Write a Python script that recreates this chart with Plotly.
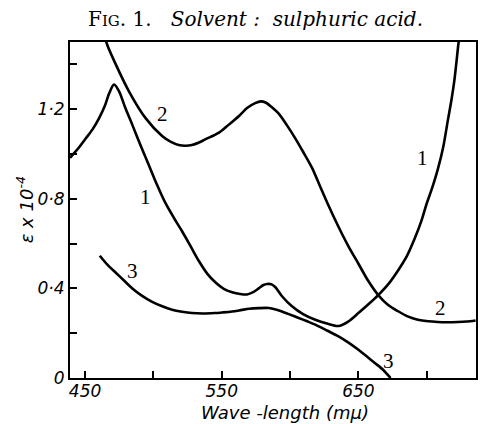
import plotly.graph_objects as go

# Curve 1
wl1 = [439, 445, 450.6, 455.5, 460.3, 464.5, 467.6, 471.2, 474.9, 479.5, 484.6, 490.5, 496.7, 502.5, 508.5, 515, 521, 527.5, 533.5, 539.5, 545.7, 551.5, 557.6, 563.5, 568.5, 573, 577, 580.5, 583.2, 586.5, 589.3, 594.1, 601.4, 609.5, 618.4, 627, 635.4, 642.5, 650, 657.5, 664.5, 672, 679, 685.5, 691, 696, 700, 704, 708, 712, 715.4, 718, 720.2, 723.1, 724.5]
eps1 = [0.983, 1.025, 1.07, 1.11, 1.16, 1.215, 1.27, 1.31, 1.28, 1.205, 1.13, 1.04, 0.95, 0.865, 0.785, 0.715, 0.655, 0.585, 0.52, 0.465, 0.425, 0.398, 0.383, 0.375, 0.373, 0.383, 0.4, 0.415, 0.42, 0.418, 0.405, 0.365, 0.32, 0.285, 0.26, 0.243, 0.232, 0.252, 0.29, 0.33, 0.37, 0.42, 0.48, 0.545, 0.62, 0.7, 0.78, 0.85, 0.93, 1.03, 1.15, 1.24, 1.33, 1.49, 1.56]

# Curve 2
wl2 = [464.5, 465.7, 472.5, 482.1, 494.3, 506.4, 512.5, 518.5, 523.5, 528.2, 533, 537.9, 548, 555, 562.6, 568.5, 574.8, 578.5, 582, 586.5, 591.7, 597.5, 603.8, 609.5, 615.9, 622, 628.1, 635.4, 642.5, 650, 657, 664.5, 671.5, 679, 686, 693.5, 701, 708, 715, 722.6, 729, 735.7]
eps2 = [1.55, 1.497, 1.40, 1.28, 1.16, 1.08, 1.055, 1.04, 1.037, 1.04, 1.05, 1.065, 1.095, 1.13, 1.17, 1.205, 1.228, 1.235, 1.23, 1.21, 1.18, 1.13, 1.07, 1.01, 0.94, 0.855, 0.77, 0.675, 0.59, 0.51, 0.435, 0.37, 0.327, 0.298, 0.275, 0.26, 0.253, 0.25, 0.249, 0.25, 0.252, 0.257]

# Curve 3
wl3 = [460.8, 466.5, 472.5, 478.5, 484.6, 491.5, 499.1, 506.5, 513.7, 521, 528.2, 536, 545, 551, 557.6, 564, 570, 577, 584.5, 589.5, 594, 600, 606.3, 612.5, 618.4, 627, 635.4, 643, 650, 656, 662, 668, 673.5]
eps3 = [0.546, 0.505, 0.47, 0.435, 0.40, 0.368, 0.34, 0.32, 0.305, 0.296, 0.29, 0.288, 0.29, 0.293, 0.297, 0.303, 0.309, 0.312, 0.3125, 0.306, 0.297, 0.283, 0.268, 0.253, 0.238, 0.212, 0.186, 0.157, 0.126, 0.097, 0.067, 0.037, 0.0]

# Curve labels
label_text = ["1", "2", "3", "1", "2", "3"]
label_wl = [494.3, 506.4, 484.6, 697.2, 710.0, 671.7]
label_eps = [0.81, 1.18, 0.476, 0.983, 0.3125, 0.074]

# Axis ticks
x_tickvals = [450, 550, 650]
x_ticktext = ["450", "550", "650"]
x_minorvals = [500, 600, 700]
y_tickvals = [0, 0.4, 0.8, 1.2]
y_ticktext = ["0", "0·4", "0·8", "1·2"]
y_minorvals = [0.2, 0.6, 1.0, 1.4]

fig = go.Figure()
for wl, eps in [(wl1, eps1), (wl2, eps2), (wl3, eps3)]:
    fig.add_trace(go.Scatter(x=wl, y=eps, mode="lines",
                             line=dict(color="black", width=2.6, shape="spline", smoothing=0.8),
                             showlegend=False, hoverinfo="skip"))

for t, xw, ye in zip(label_text, label_wl, label_eps):
    fig.add_annotation(x=xw, y=ye, text=t, showarrow=False,
                       font=dict(family="Liberation Serif", size=21, color="black"))

axis_common = dict(showline=True, mirror=True, linecolor="black", linewidth=2,
                   ticks="inside", ticklen=7, tickwidth=1.5, tickcolor="black",
                   showgrid=False, zeroline=False,
                   tickfont=dict(family="DejaVu Sans", size=17, color="black", style="italic"))
minor_common = dict(ticks="inside", ticklen=7, tickwidth=1.5, tickcolor="black", showgrid=False)

fig.update_xaxes(range=[439, 736], tickmode="array", tickvals=x_tickvals, ticktext=x_ticktext,
                 minor=dict(tickmode="array", tickvals=x_minorvals, **minor_common),
                 ticklabelstandoff=-3, **axis_common)
fig.update_yaxes(range=[0, 1.5], tickmode="array", tickvals=y_tickvals, ticktext=y_ticktext,
                 minor=dict(tickmode="array", tickvals=y_minorvals, **minor_common),
                 **axis_common)

fig.add_annotation(xref="paper", yref="paper", x=0.529, y=-0.104, xanchor="center", yanchor="middle",
                   text="Wave -length (mμ)", showarrow=False,
                   font=dict(family="DejaVu Sans", size=18, color="black", style="italic"))
fig.add_annotation(xref="paper", yref="paper", x=-0.11, y=0.5, xanchor="center", yanchor="middle",
                   text="ε x 10<sup>-4</sup>", showarrow=False, textangle=-90,
                   font=dict(family="DejaVu Sans", size=18, color="black", style="italic"))
fig.add_annotation(xref="paper", yref="paper", x=0.456, y=1.068, xanchor="center", yanchor="middle",
                   text="F<span style='font-size:15px'>IG</span>. 1.   <i>Solvent :  sulphuric acid.</i>",
                   showarrow=False,
                   font=dict(family="DejaVu Serif", size=20, color="black"))

fig.update_layout(width=481, height=424, margin=dict(l=70, r=3, t=42, b=46),
                  paper_bgcolor="white", plot_bgcolor="white")

fig.write_html("out.html", config={"displayModeBar": False},
               post_script="document.body.style.margin='0';")
